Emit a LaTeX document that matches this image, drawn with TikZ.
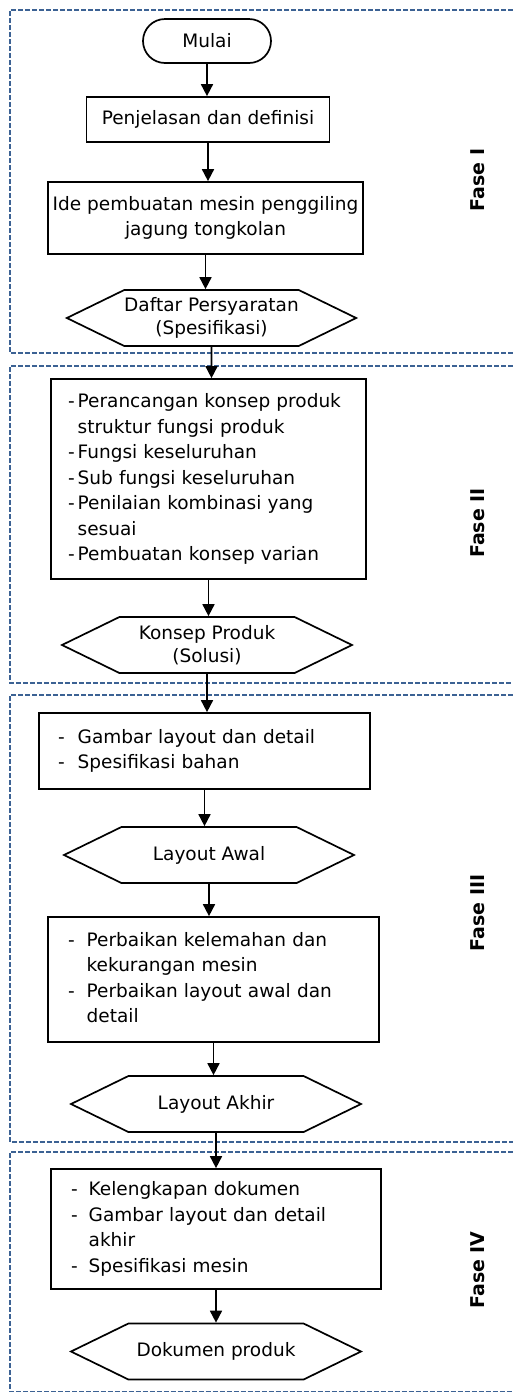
\documentclass[tikz,border=0pt]{standalone}
\usepackage{fontspec}
\setmainfont{DejaVu Sans}
\usetikzlibrary{arrows.meta,shapes.symbols}

\definecolor{phaseblue}{RGB}{60,98,148}
\newcommand{\boxfont}{\fontsize{18.5}{25.5}\selectfont}

\begin{document}
\begin{tikzpicture}[x=1pt, y=-1pt,
    term/.style={draw, line width=1.7pt, rounded corners=22pt, minimum width=128pt,
                 minimum height=44pt, font=\boxfont},
    proc/.style={draw, line width=1.7pt, align=center, inner sep=0pt, font=\boxfont},
    listbox/.style={proc, align=left},
    hexa/.style={draw, line width=1.7pt, signal, signal to=east and west, signal pointer angle=52,
                 minimum width=290pt, minimum height=56pt, inner sep=0pt, align=center,
                 font=\fontsize{18.5}{23}\selectfont},
    fase/.style={rotate=90, font=\fontsize{19}{22}\selectfont\bfseries},
    frame/.style={phaseblue, line width=1.3pt, dash pattern=on 5pt off 2pt},
    arr/.style={-{Triangle[length=12pt,width=12pt]}, line width=1.7pt},
]
\useasboundingbox (0,0) rectangle (513,1393);

% Phase frames (open on the right, cut by the page)
\draw[frame] (513,10) -| (10,353) -- (513,353);
\draw[frame] (513,366) -| (10,683) -- (513,683);
\draw[frame] (513,695) -| (10,1142) -- (513,1142);
\draw[frame] (513,1152) -| (10,1391.5) -- (513,1391.5);

% Phase labels
\node[fase] (f1) at (478,180) {Fase I};
\node[fase] (f2) at (478,523) {Fase II};
\node[fase] (f3) at (478,913) {Fase III};
\node[fase] (f4) at (478,1270) {Fase IV};

% Fase I
\node[term] (mulai) at (207,41) {Mulai};
\node[proc, minimum width=243pt, minimum height=45pt] (penj) at (208,119.5) {Penjelasan dan definisi};
\node[proc, minimum width=315pt, minimum height=72pt] (ide) at (205.5,218)
    {Ide pembuatan mesin penggiling\\jagung tongkolan};
\node[hexa, minimum width=289pt] (daftar) at (211.5,318) {Daftar Persyaratan\\(Spesifikasi)};

% Fase II
\node[listbox, minimum width=315pt, minimum height=200pt, text width=281pt] (konsep) at (208.5,479) {%
    \begin{tabular}{@{}l@{\hspace{3pt}}l@{}}
    - & Perancangan konsep produk\\
      & struktur fungsi produk\\
    - & Fungsi keseluruhan\\
    - & Sub fungsi keseluruhan\\
    - & Penilaian kombinasi yang\\
      & sesuai\\
    - & Pembuatan konsep varian
    \end{tabular}};
\node[hexa] (solusi) at (207,645) {Konsep Produk\\(Solusi)};

% Fase III
\node[listbox, minimum width=331pt, minimum height=76pt, text width=293pt] (gambar) at (204.5,751) {%
    \begin{tabular}{@{}l@{\hspace{13pt}}l@{}}
    - & Gambar layout dan detail\\
    - & Spesifikasi bahan
    \end{tabular}};
\node[hexa] (awal) at (209,855) {Layout Awal};
\node[listbox, minimum width=331pt, minimum height=125pt, text width=291pt] (perbaikan) at (213.5,979.5) {%
    \begin{tabular}{@{}l@{\hspace{12pt}}l@{}}
    - & Perbaikan kelemahan dan\\
      & kekurangan mesin\\
    - & Perbaikan layout awal dan\\
      & detail
    \end{tabular}};
\node[hexa] (akhir) at (216,1104) {Layout Akhir};

% Fase IV
\node[listbox, minimum width=330pt, minimum height=120pt, text width=290pt] (dokumen) at (216,1229) {%
    \begin{tabular}{@{}l@{\hspace{11pt}}l@{}}
    - & Kelengkapan dokumen\\
    - & Gambar layout dan detail\\
      & akhir\\
    - & Spesifikasi mesin
    \end{tabular}};
\node[hexa] (produk) at (216,1351.5) {Dokumen produk};

% Flow
\draw[arr] (mulai) -- (mulai |- penj.north);
\draw[arr] (penj) -- (penj |- ide.north);
\draw[arr] (ide) -- (ide.south |- daftar.north);
\draw[arr] (daftar) -- (daftar |- konsep.north);
\draw[arr] (konsep) -- (konsep |- solusi.north);
\draw[arr] (solusi) -- (solusi |- gambar.north);
\draw[arr] (gambar) -- (gambar |- awal.north);
\draw[arr] (awal) -- (awal |- perbaikan.north);
\draw[arr] (perbaikan) -- (perbaikan |- akhir.north);
\draw[arr] (akhir) -- (akhir |- dokumen.north);
\draw[arr] (dokumen) -- (dokumen |- produk.north);
\end{tikzpicture}
\end{document}
